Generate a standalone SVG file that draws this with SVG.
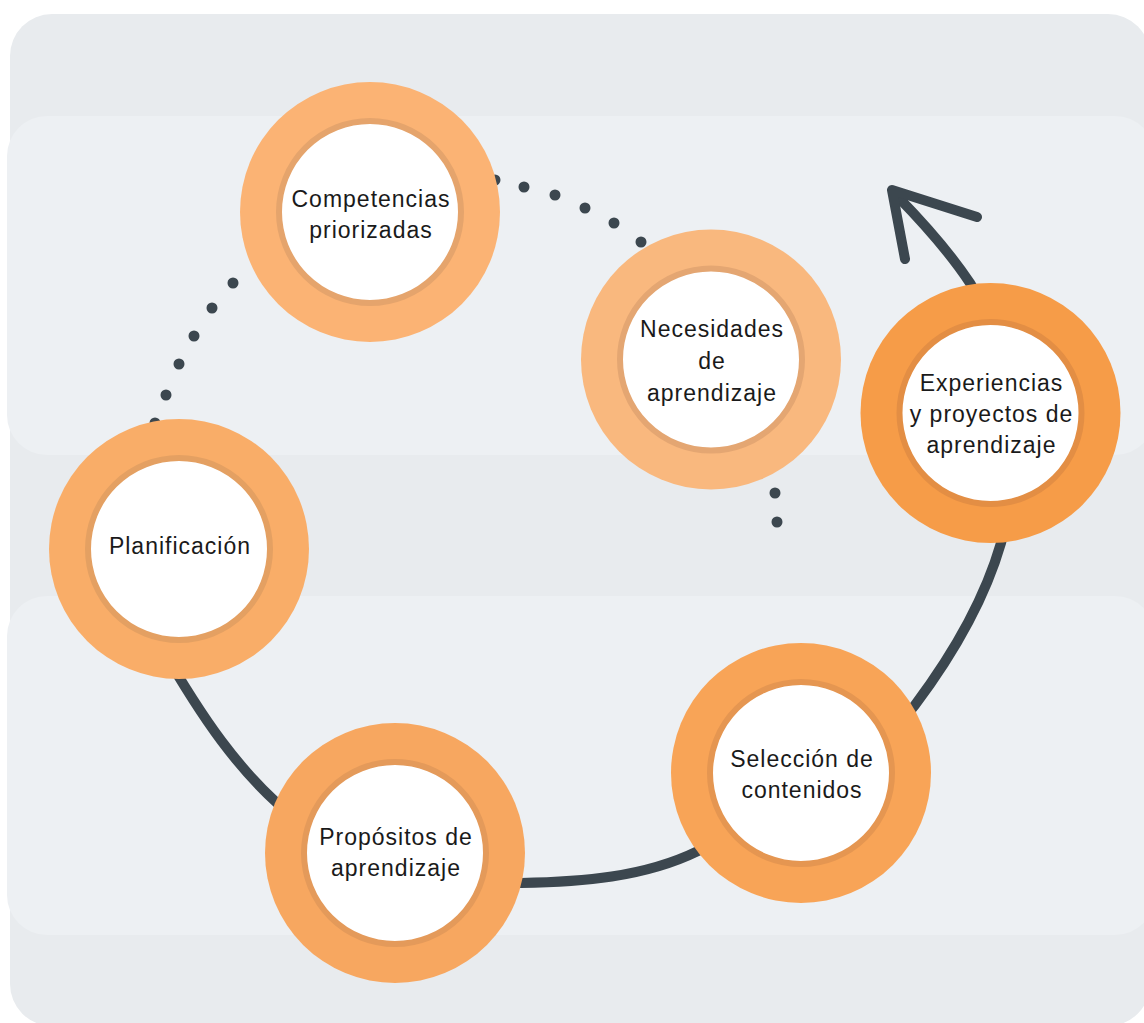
<svg xmlns="http://www.w3.org/2000/svg" width="1144" height="1023" viewBox="0 0 1144 1023">
  <style>
    .bg-outer { fill: #e8ebee; }
    .bg-band { fill: #edf0f3; }
    .flow { fill: none; stroke: #3c474f; stroke-width: 10; stroke-linecap: round; stroke-linejoin: round; }
    .dots { fill: none; stroke: #3c474f; stroke-width: 11; stroke-linecap: round; }
    .inner { fill: #ffffff; stroke-width: 6; }
    .label { font-family: "Liberation Sans", Arial, sans-serif; font-size: 23px; letter-spacing: 1px; fill: #1a1a1a; text-anchor: middle; }
  </style>
  <rect x="0" y="0" width="1144" height="1023" fill="#ffffff"/>
  <g id="background">
    <rect class="bg-outer" x="10" y="14" width="1140" height="1012" rx="42" ry="42"/>
    <rect class="bg-band" x="7" y="116" width="1148" height="339" rx="40" ry="40"/>
    <rect class="bg-band" x="7" y="596" width="1148" height="339" rx="40" ry="40"/>
  </g>
  <g id="connectors">
    <path id="cycle-arc" class="flow" d="M160 645 C197.5 710 240 777 300 822 C363 864.5 445 884.5 521 883 C581 882 644 877.4 698 851 C776 813 863 775 915 705 C951.6 656.2 984 601.6 1001 543 C1025 459.5 1018 358.7 970 283 C949.6 252.3 924 223.6 898 197"/>
    <path id="arrowhead" class="flow" d="M977 217 L892 190 L905 259"/>
    <path id="dots-left" class="dots" d="M155 423h0 M166 395h0 M179 364h0 M194 336h0 M212 308h0 M233 283h0"/>
    <path id="dots-top" class="dots" d="M495 180h0 M524 187h0 M555 195h0 M585 208h0 M614 223h0 M641 242h0"/>
    <path id="dots-bottom" class="dots" d="M775 493h0 M777 522h0"/>
  </g>
  <g id="node-competencias">
    <circle cx="370" cy="212" r="130" fill="#fbb374"/>
    <circle class="inner" cx="370" cy="212" r="91" stroke="#e5a46c"/>
    <text class="label" x="371" y="206.5">Competencias</text>
    <text class="label" x="371" y="237.5">priorizadas</text>
  </g>
  <g id="node-necesidades">
    <circle cx="711" cy="359.5" r="130" fill="#f9b87e"/>
    <circle class="inner" cx="711" cy="359.5" r="91" stroke="#e4a672"/>
    <text class="label" x="712" y="337">Necesidades</text>
    <text class="label" x="712" y="369">de</text>
    <text class="label" x="712" y="401">aprendizaje</text>
  </g>
  <g id="node-experiencias">
    <circle cx="990.5" cy="413" r="130" fill="#f69c48"/>
    <circle class="inner" cx="990.5" cy="413" r="91" stroke="#e38e44"/>
    <text class="label" x="991.5" y="391">Experiencias</text>
    <text class="label" x="991.5" y="422">y proyectos de</text>
    <text class="label" x="991.5" y="453">aprendizaje</text>
  </g>
  <g id="node-planificacion">
    <circle cx="179" cy="549" r="130" fill="#f9ad68"/>
    <circle class="inner" cx="179" cy="549" r="91" stroke="#e4a062"/>
    <text class="label" x="180" y="554">Planificación</text>
  </g>
  <g id="node-propositos">
    <circle cx="395" cy="853" r="130" fill="#f7a760"/>
    <circle class="inner" cx="395" cy="853" r="91" stroke="#e49a5a"/>
    <text class="label" x="396" y="845">Propósitos de</text>
    <text class="label" x="396" y="876">aprendizaje</text>
  </g>
  <g id="node-seleccion">
    <circle cx="801" cy="773" r="130" fill="#f8a457"/>
    <circle class="inner" cx="801" cy="773" r="91" stroke="#e59651"/>
    <text class="label" x="802" y="767">Selección de</text>
    <text class="label" x="802" y="798">contenidos</text>
  </g>
</svg>
